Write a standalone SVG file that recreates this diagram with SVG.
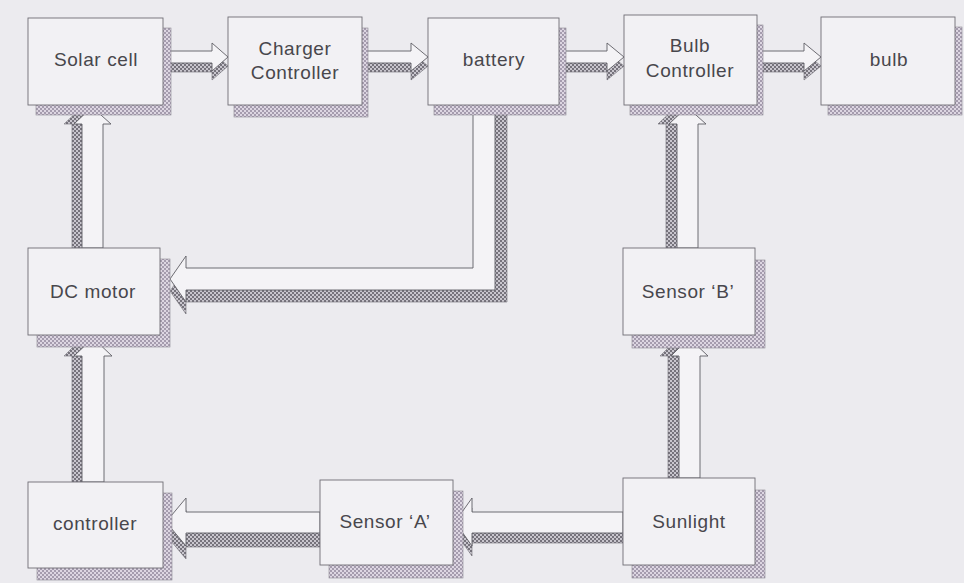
<svg xmlns="http://www.w3.org/2000/svg" width="964" height="583" viewBox="0 0 964 583">
<defs>
<pattern id="chk" width="4" height="4" patternUnits="userSpaceOnUse">
<rect width="4" height="4" fill="#c9c6ce"/>
<rect width="2" height="2" fill="#76737c"/>
<rect x="2" y="2" width="2" height="2" fill="#76737c"/>
</pattern>
<pattern id="chk2" width="4" height="4" patternUnits="userSpaceOnUse">
<rect width="4" height="4" fill="#ddd6e2"/>
<rect width="2" height="2" fill="#a59cae"/>
<rect x="2" y="2" width="2" height="2" fill="#a59cae"/>
</pattern>
</defs>
<style>
.face{fill:#f2f1f4;stroke:#6f6d74;stroke-width:0.9}
.sh{fill:url(#chk2);stroke:#8a8790;stroke-width:0.6}
.af{fill:#f4f3f6;stroke:#5f5d64;stroke-width:0.9}
.as{fill:url(#chk);stroke:#6f6d74;stroke-width:0.6}
.t{font-family:"Liberation Sans",Arial,sans-serif;font-size:19px;letter-spacing:0.6px;fill:#48474c;text-anchor:middle}
</style>
<rect width="964" height="583" fill="#ecebef"/>

<g id="connectors">
<g id="a-solar-charger">
<polygon class="as" points="163,60 212,60 212,52 228,66 212,80 212,72 163,72"/>
<polygon class="af" points="163,51 212,51 212,43 228,57 212,71 212,63 163,63"/>
</g>
<g id="a-charger-battery">
<polygon class="as" points="362,60 411,60 411,52 428,66 411,80 411,72 362,72"/>
<polygon class="af" points="362,51 411,51 411,43 428,57 411,71 411,63 362,63"/>
</g>
<g id="a-battery-bulbctrl">
<polygon class="as" points="560,60 607,60 607,52 624,66 607,80 607,72 560,72"/>
<polygon class="af" points="560,51 607,51 607,43 624,57 607,71 607,63 560,63"/>
</g>
<g id="a-bulbctrl-bulb">
<polygon class="as" points="757,60 804,60 804,52 821,66 804,80 804,72 757,72"/>
<polygon class="af" points="757,51 804,51 804,43 821,57 804,71 804,63 757,63"/>
</g>
<g id="a-dc-solar">
<polygon class="as" points="72,248 72,124 64,124 82,107 100,124 93,124 93,248"/>
<polygon class="af" points="82,248 82,124 74,124 92,107 111,124 103,124 103,248"/>
</g>
<g id="a-ctrl-dc">
<polygon class="as" points="72,482 72,356 64,356 82,338 100,356 93,356 93,482"/>
<polygon class="af" points="82,482 82,356 74,356 93,338 112,356 104,356 104,482"/>
</g>
<g id="a-sensorb-bulbctrl">
<polygon class="as" points="666,248 666,124 658,124 676,107 694,124 687,124 687,248"/>
<polygon class="af" points="677,248 677,124 669,124 687,107 706,124 698,124 698,248"/>
</g>
<g id="a-sun-sensorb">
<polygon class="as" points="668,478 668,356 660,356 678,338 696,356 689,356 689,478"/>
<polygon class="af" points="679,478 679,356 671,356 689,338 708,356 700,356 700,478"/>
</g>
<g id="a-sun-sensora">
<polygon class="as" points="623,522 472,522 472,508 455,532 472,556 472,543 623,543"/>
<polygon class="af" points="623,512 472,512 472,498 455,522 472,546 472,533 623,533"/>
</g>
<g id="a-sensora-ctrl">
<polygon class="as" points="320,524 186,524 186,510 166,535 186,559 186,547 320,547"/>
<polygon class="af" points="320,512 186,512 186,498 166,522 186,546 186,533 320,533"/>
</g>
<g id="a-battery-dc">
<polygon class="as" points="485,105 485,280 186,280 186,268 170,291 186,314 186,302 507,302 507,105"/>
<polygon class="af" points="473,105 473,268 186,268 186,256 170,279 186,302 186,290 495,290 495,105"/>
</g>
</g>

<g id="n-solar"><rect class="sh" x="36" y="28" width="135" height="87"/><rect class="face" x="28" y="18" width="135" height="87"/><text class="t" x="96" y="66">Solar cell</text></g>
<g id="n-charger"><rect class="sh" x="234" y="28" width="134" height="89"/><rect class="face" x="228" y="17" width="134" height="88"/><text class="t" x="295" y="55">Charger</text><text class="t" x="295" y="79">Controller</text></g>
<g id="n-battery"><rect class="sh" x="434" y="28" width="132" height="87"/><rect class="face" x="428" y="18" width="131" height="87"/><text class="t" x="494" y="66">battery</text></g>
<g id="n-bulbctrl"><rect class="sh" x="630" y="25" width="133" height="90"/><rect class="face" x="624" y="15" width="133" height="90"/><text class="t" x="690" y="52">Bulb</text><text class="t" x="690" y="77">Controller</text></g>
<g id="n-bulb"><rect class="sh" x="828" y="27" width="134" height="88"/><rect class="face" x="821" y="17" width="134" height="88"/><text class="t" x="889" y="66">bulb</text></g>
<g id="n-dc"><rect class="sh" x="37" y="259" width="133" height="88"/><rect class="face" x="28" y="248" width="132" height="87"/><text class="t" x="93" y="298">DC motor</text></g>
<g id="n-sensorb"><rect class="sh" x="632" y="260" width="133" height="88"/><rect class="face" x="623" y="248" width="132" height="87"/><text class="t" x="688" y="298">Sensor ‘B’</text></g>
<g id="n-ctrl"><rect class="sh" x="37" y="493" width="135" height="87"/><rect class="face" x="28" y="482" width="135" height="86"/><text class="t" x="95" y="530">controller</text></g>
<g id="n-sensora"><rect class="sh" x="329" y="491" width="134" height="87"/><rect class="face" x="320" y="480" width="133" height="85"/><text class="t" x="385" y="528">Sensor ‘A’</text></g>
<g id="n-sun"><rect class="sh" x="632" y="490" width="133" height="88"/><rect class="face" x="623" y="478" width="132" height="87"/><text class="t" x="689" y="528">Sunlight</text></g>
</svg>
